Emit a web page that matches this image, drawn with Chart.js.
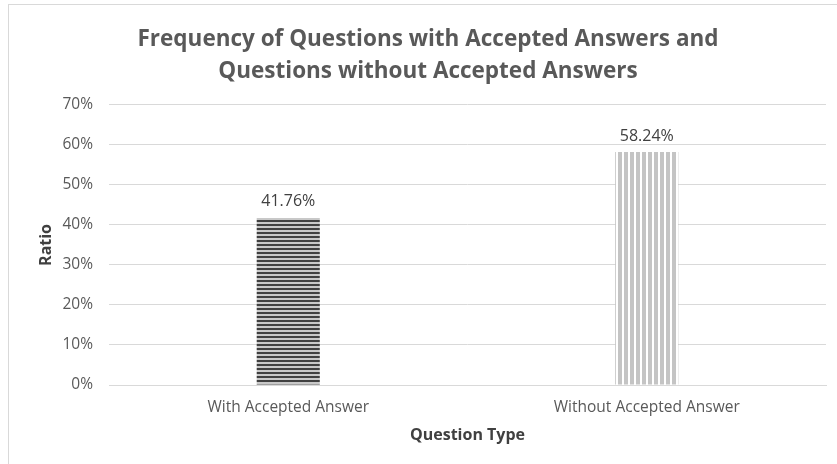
<!DOCTYPE html>
<html>
<head>
<meta charset="utf-8">
<script src="https://cdn.jsdelivr.net/npm/chart.js@4/dist/chart.umd.min.js"></script>
<style>
  html, body { margin: 0; padding: 0; background: #fff; overflow: hidden; }
  #frame { position: absolute; left: 8px; top: 4px; width: 840px; height: 470px; border: 1px solid #d9d9d9; box-sizing: border-box; }
  #chart { position: absolute; left: 0; top: 0; }
</style>
</head>
<body>
<div id="frame"></div>
<canvas id="chart" width="837" height="464"></canvas>
<script>
// values
const categories = ["With Accepted Answer", "Without Accepted Answer"];
const ratios = [0.4176, 0.5824];
const valueLabels = ["41.76%", "58.24%"];

function stripes(horizontal) {
    let c = document.createElement("canvas");
    c.width = horizontal ? 4 : 6;
    c.height = horizontal ? 4 : 6;
    let g = c.getContext("2d");
    if (horizontal) {
        g.fillStyle = "#c8c8c8";
        g.fillRect(0, 0, 4, 4);
        g.fillStyle = "#404040";
        g.fillRect(0, 0, 4, 2);
    } else {
        g.fillStyle = "#ffffff";
        g.fillRect(0, 0, 6, 6);
        g.fillStyle = "#c4c4c4";
        g.fillRect(0, 0, 4, 6);
    }
    return g.createPattern(c, "repeat");
}

const labelPlugin = {
    id: "valueLabels",
    afterDatasetsDraw(chart) {
        let ctx = chart.ctx;
        let meta = chart.getDatasetMeta(0);
        ctx.save();
        ctx.font = "16px 'Open Sans', sans-serif";
        ctx.fillStyle = "#404040";
        ctx.textAlign = "center";
        ctx.textBaseline = "bottom";
        meta.data.forEach(function (bar, i) {
            ctx.fillText(valueLabels[i], bar.x, bar.y - 8);
        });
        ctx.restore();
    }
};

Chart.defaults.font.family = "'Open Sans', sans-serif";
Chart.defaults.color = "#595959";

new Chart(document.getElementById("chart").getContext("2d"), {
    type: "bar",
    data: {
        labels: categories,
        datasets: [{
            data: ratios,
            backgroundColor: [stripes(true), stripes(false)],
            categoryPercentage: 1,
            barPercentage: 0.176
        }]
    },
    options: {
        responsive: false,
        animation: false,
        devicePixelRatio: 1,
        layout: { padding: { left: 30, right: 11, top: 4, bottom: 19 } },
        plugins: {
            legend: { display: false },
            tooltip: { enabled: false },
            title: {
                display: true,
                text: ["Frequency of Questions with Accepted Answers and", "Questions without Accepted Answers"],
                font: { size: 22.5, weight: "bold", lineHeight: 1.42 },
                color: "#595959",
                padding: { top: 20, bottom: 17 }
            }
        },
        scales: {
            x: {
                grid: { display: false, drawTicks: false },
                border: { color: "#d9d9d9" },
                ticks: { font: { size: 15.5 }, color: "#595959", padding: 13 },
                title: { display: true, text: "Question Type", font: { size: 16, weight: "bold" }, color: "#404040", padding: { top: 10, bottom: 0 } },
                afterFit: function (scale) { scale.height = 60; }
            },
            y: {
                min: 0,
                max: 0.7,
                ticks: {
                    stepSize: 0.1,
                    font: { size: 15.5 },
                    color: "#595959",
                    padding: 16,
                    callback: function (v) { return Math.round(v * 100) + "%"; }
                },
                grid: { color: "#d9d9d9", drawTicks: false },
                border: { display: false },
                title: { display: true, text: "Ratio", font: { size: 16, weight: "bold" }, color: "#404040", padding: { top: 7, bottom: 6 } },
                afterFit: function (scale) { scale.width = 79; }
            }
        }
    },
    plugins: [labelPlugin]
});
</script>
</body>
</html>
